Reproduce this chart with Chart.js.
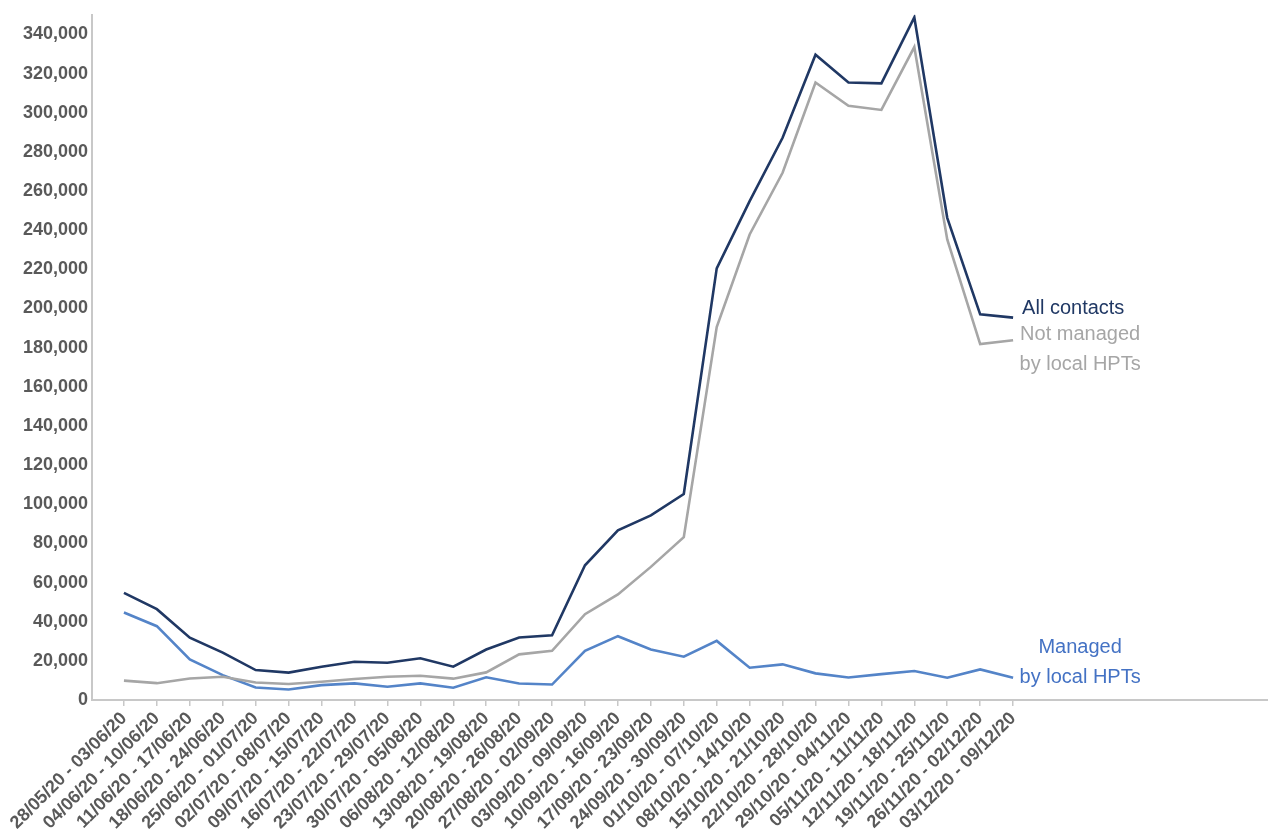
<!DOCTYPE html>
<html lang="en">
<head>
    <meta charset="UTF-8">
    <title>Contacts by management</title>
    <script src="https://cdn.jsdelivr.net/npm/chart.js"></script>
    <style>
        body {
            margin: 0;
            padding: 0;
            background: #ffffff;
        }
        .wrap {
            width: 1268px;
            height: 830px;
            position: relative;
        }
    </style>
</head>
<body>
    <div class="wrap">
        <canvas id="contactsChart"></canvas>
    </div>

    <script>
        // Week labels (x axis)
        const weeks = [
            '28/05/20 - 03/06/20', '04/06/20 - 10/06/20', '11/06/20 - 17/06/20', '18/06/20 - 24/06/20',
            '25/06/20 - 01/07/20', '02/07/20 - 08/07/20', '09/07/20 - 15/07/20', '16/07/20 - 22/07/20',
            '23/07/20 - 29/07/20', '30/07/20 - 05/08/20', '06/08/20 - 12/08/20', '13/08/20 - 19/08/20',
            '20/08/20 - 26/08/20', '27/08/20 - 02/09/20', '03/09/20 - 09/09/20', '10/09/20 - 16/09/20',
            '17/09/20 - 23/09/20', '24/09/20 - 30/09/20', '01/10/20 - 07/10/20', '08/10/20 - 14/10/20',
            '15/10/20 - 21/10/20', '22/10/20 - 28/10/20', '29/10/20 - 04/11/20', '05/11/20 - 11/11/20',
            '12/11/20 - 18/11/20', '19/11/20 - 25/11/20', '26/11/20 - 02/12/20', '03/12/20 - 09/12/20'
        ];

        // Series values
        const allContacts = [
            54700, 46400, 31800, 24200, 15300, 14000, 17000, 19500, 19000, 21300, 17000, 25800,
            31900, 33100, 68800, 86700, 94300, 105200, 220500, 254800, 287200, 329600, 315400,
            315000, 348700, 246300, 197000, 195300
        ];
        const notManaged = [
            9900, 8600, 11000, 11900, 8900, 8200, 9300, 10700, 11900, 12400, 10900, 14100,
            23300, 25100, 43800, 53900, 68000, 83200, 190500, 237800, 269300, 315400, 303500,
            301400, 333500, 235300, 181800, 183800
        ];
        const managed = [
            44700, 37700, 20700, 12700, 6400, 5400, 7600, 8500, 6800, 8500, 6300, 11600,
            8400, 7900, 25100, 32600, 25800, 22100, 30200, 16500, 18200, 13600, 11500,
            13200, 14800, 11400, 15600, 11400
        ];

        // Y tick values
        const yTicks = [0, 20000, 40000, 60000, 80000, 100000, 120000, 140000, 160000,
            180000, 200000, 220000, 240000, 260000, 280000, 300000, 320000, 340000];

        const navy = '#203864';
        const grey = '#a6a6a6';
        const blue = '#5484c8';
        const tickText = '#595959';
        const axisGrey = '#c8c8c8';

        const toPoints = arr => arr.map((v, i) => ({ x: i, y: v }));

        // End-of-line labels, placed relative to each series' last point
        const endLabels = {
            id: 'endLabels',
            afterDatasetsDraw(chart) {
                const ctx = chart.ctx;
                const last = weeks.length - 1;
                const pAll = chart.getDatasetMeta(0).data[last];
                const pNot = chart.getDatasetMeta(1).data[last];
                const pMan = chart.getDatasetMeta(2).data[last];
                ctx.save();
                ctx.font = '20px "Liberation Sans", Arial, sans-serif';
                ctx.textBaseline = 'middle';

                ctx.fillStyle = navy;
                ctx.textAlign = 'left';
                ctx.fillText('All contacts', pAll.x + 9, pAll.y - 9);

                ctx.fillStyle = grey;
                ctx.textAlign = 'center';
                ctx.fillText('Not managed', pNot.x + 67, pNot.y - 6);
                ctx.fillText('by local HPTs', pNot.x + 67, pNot.y + 24);

                ctx.fillStyle = '#4472c4';
                ctx.fillText('Managed', pMan.x + 67, pMan.y - 30);
                ctx.fillText('by local HPTs', pMan.x + 67, pMan.y);
                ctx.restore();
            }
        };

        const ctx = document.getElementById('contactsChart').getContext('2d');
        new Chart(ctx, {
            type: 'line',
            data: {
                datasets: [
                    { label: 'All contacts', data: toPoints(allContacts), borderColor: navy, borderWidth: 2.6 },
                    { label: 'Not managed by local HPTs', data: toPoints(notManaged), borderColor: grey, borderWidth: 2.6 },
                    { label: 'Managed by local HPTs', data: toPoints(managed), borderColor: blue, borderWidth: 2.6 }
                ]
            },
            options: {
                responsive: true,
                maintainAspectRatio: false,
                animation: false,
                elements: {
                    point: { radius: 0, hoverRadius: 0 },
                    line: { tension: 0, fill: false }
                },
                layout: {
                    padding: { top: 13, right: 0, bottom: 0, left: 0 }
                },
                plugins: {
                    legend: { display: false },
                    tooltip: { enabled: false }
                },
                scales: {
                    x: {
                        type: 'linear',
                        min: -0.97,
                        max: 34.74,
                        afterBuildTicks: scale => {
                            scale.ticks = weeks.map((w, i) => ({ value: i }));
                        },
                        afterFit: scale => { scale.height = 130; },
                        grid: {
                            drawOnChartArea: false,
                            drawTicks: true,
                            tickLength: 6,
                            tickColor: axisGrey,
                            lineWidth: 1.5
                        },
                        border: { display: true, color: axisGrey, width: 2 },
                        ticks: {
                            autoSkip: false,
                            minRotation: 45,
                            maxRotation: 45,
                            padding: 2,
                            color: tickText,
                            font: { family: '"Liberation Sans", Arial, sans-serif', size: 18, weight: 'bold' },
                            callback: v => weeks[v]
                        }
                    },
                    y: {
                        min: 0,
                        max: 350000,
                        afterBuildTicks: scale => {
                            scale.ticks = yTicks.map(v => ({ value: v }));
                        },
                        afterFit: scale => { scale.width = 92; },
                        grid: { display: false, drawTicks: false },
                        border: { display: true, color: axisGrey, width: 2 },
                        ticks: {
                            padding: 4,
                            color: tickText,
                            font: { family: '"Liberation Sans", Arial, sans-serif', size: 18, weight: 'bold' },
                            callback: v => v.toLocaleString('en-GB')
                        }
                    }
                }
            },
            plugins: [endLabels]
        });
    </script>
</body>
</html>
